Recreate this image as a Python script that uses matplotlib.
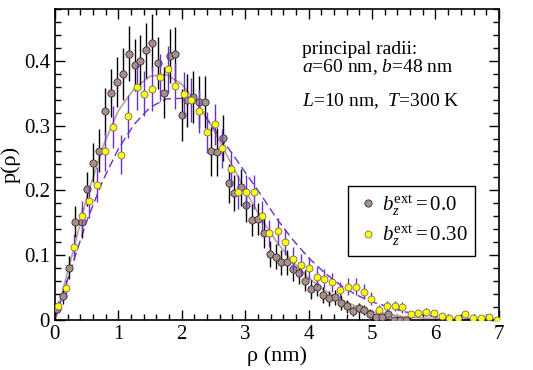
import numpy as np
import matplotlib
matplotlib.use("Agg")
import matplotlib.pyplot as plt
from matplotlib.lines import Line2D
from matplotlib.ticker import MultipleLocator

plt.rcParams["font.family"] = ["Liberation Serif", "DejaVu Serif"]
plt.rcParams["mathtext.fontset"] = "custom"
plt.rcParams["mathtext.rm"] = "Liberation Serif"
plt.rcParams["mathtext.it"] = "Liberation Serif:italic"

# ── DATA ──────────────────────────────────────────────────────────────────────
# b_z^ext = 0.0  (brown circles, black error bars)
rho_a = [0.04, 0.13, 0.23, 0.32, 0.42, 0.51, 0.60, 0.70, 0.79, 0.88,
         0.98, 1.07, 1.17, 1.26, 1.34, 1.44, 1.53, 1.62, 1.72, 1.81,
         1.90, 2.00, 2.09, 2.18, 2.27, 2.37, 2.46, 2.56, 2.65, 2.74,
         2.83, 2.93, 3.01, 3.11, 3.20, 3.29, 3.39, 3.48, 3.57, 3.66,
         3.75, 3.85, 3.94, 4.03, 4.13, 4.22, 4.32, 4.41, 4.51, 4.61,
         4.70, 4.79, 4.88, 4.97, 5.06, 5.15, 5.25, 5.34, 5.44, 5.53]
p_a = [0.0175, 0.037, 0.081, 0.152, 0.151, 0.2025, 0.243, 0.261, 0.322, 0.350,
       0.367, 0.380, 0.411, 0.394, 0.399, 0.416, 0.428, 0.397, 0.351, 0.407,
       0.410, 0.316, 0.339, 0.344, 0.336, 0.337, 0.260, 0.259, 0.281, 0.211,
       0.196, 0.2045, 0.178, 0.1545, 0.1556, 0.134, 0.1015, 0.098, 0.089, 0.089,
       0.079, 0.072, 0.061, 0.0475, 0.0515, 0.0386, 0.0335, 0.035, 0.027, 0.021,
       0.014, 0.018, 0.0155, 0.010, 0.005, 0.005, 0.009, 0.0, 0.0, 0.0]
err_a = [0.007, 0.012, 0.018, 0.024, 0.024, 0.026, 0.030, 0.033, 0.036, 0.037,
         0.039, 0.040, 0.043, 0.040, 0.041, 0.042, 0.044, 0.040, 0.039, 0.042,
         0.042, 0.040, 0.041, 0.040, 0.040, 0.040, 0.038, 0.037, 0.036, 0.030,
         0.028, 0.028, 0.027, 0.025, 0.025, 0.023, 0.020, 0.020, 0.019, 0.019,
         0.018, 0.017, 0.016, 0.015, 0.015, 0.013, 0.012, 0.012, 0.011, 0.010,
         0.008, 0.009, 0.008, 0.007, 0.005, 0.005, 0.006, 0.002, 0.002, 0.002]

# b_z^ext = 0.30  (yellow circles, purple error bars)
rho_b = [0.05, 0.17, 0.30, 0.42, 0.54, 0.67, 0.79, 0.91, 1.04, 1.16,
         1.29, 1.41, 1.53, 1.66, 1.78, 1.90, 2.03, 2.15, 2.27, 2.40,
         2.52, 2.64, 2.77, 2.89, 3.01, 3.14, 3.26, 3.38, 3.51, 3.63,
         3.75, 3.88, 4.00, 4.13, 4.25, 4.37, 4.50, 4.62, 4.74, 4.87,
         4.99, 5.11, 5.24, 5.36, 5.48, 5.61, 5.73, 5.85, 5.98, 6.10,
         6.22, 6.35, 6.47, 6.59, 6.72, 6.84, 6.97]
p_b = [0.0216, 0.049, 0.113, 0.160, 0.183, 0.209, 0.260, 0.298, 0.255, 0.314,
       0.359, 0.349, 0.357, 0.3745, 0.387, 0.361, 0.348, 0.339, 0.322, 0.2895,
       0.302, 0.265, 0.233, 0.197, 0.197, 0.197, 0.160, 0.134, 0.137, 0.121,
       0.094, 0.085, 0.080, 0.067, 0.064, 0.058, 0.046, 0.0515, 0.0515, 0.044,
       0.0325, 0.0155, 0.0216, 0.0216, 0.0196, 0.0088, 0.0103, 0.0128, 0.0103, 0.006,
       0.0036, 0.0036, 0.0088, 0.0036, 0.0036, 0.005, 0.0]
err_b = [0.008, 0.013, 0.020, 0.024, 0.025, 0.027, 0.030, 0.032, 0.030, 0.033,
         0.035, 0.035, 0.035, 0.036, 0.036, 0.035, 0.035, 0.034, 0.033, 0.032,
         0.032, 0.030, 0.028, 0.026, 0.026, 0.026, 0.023, 0.021, 0.021, 0.020,
         0.018, 0.017, 0.017, 0.015, 0.015, 0.014, 0.012, 0.013, 0.013, 0.012,
         0.010, 0.007, 0.008, 0.008, 0.008, 0.005, 0.005, 0.006, 0.005, 0.004,
         0.003, 0.003, 0.005, 0.003, 0.003, 0.004, 0.002]

# fitted curves
rho_fit = [0.0, 0.25, 0.5, 0.75, 1.0, 1.25, 1.5, 1.75, 2.0, 2.25,
           2.5, 2.75, 3.0, 3.25, 3.5, 3.75, 4.0, 4.25, 4.5, 4.75,
           5.0, 5.5, 6.0, 6.5, 7.0]
fit_a = [0.0, 0.092, 0.188, 0.266, 0.323, 0.357, 0.376, 0.379, 0.364, 0.334,
         0.294, 0.247, 0.200, 0.157, 0.120, 0.090, 0.065, 0.046, 0.032, 0.021,
         0.013, 0.005, 0.002, 0.0005, 0.0]
fit_b = [0.0, 0.078, 0.152, 0.214, 0.264, 0.302, 0.328, 0.341, 0.342, 0.332,
         0.296, 0.263, 0.228, 0.193, 0.156, 0.124, 0.096, 0.073, 0.054, 0.039,
         0.028, 0.013, 0.005, 0.002, 0.001]

BROWN = "#a48f8c"
BROWN_EDGE = "#3a2a2a"
YELLOW = "#ffff10"
YELLOW_EDGE = "#7a6a50"
PURPLE = "#6b30c8"

# ── PLOT ──────────────────────────────────────────────────────────────────────
fig = plt.figure(figsize=(5.33, 3.70), dpi=100)
ax = fig.add_axes([0.103, 0.135, 0.833, 0.841])

ax.plot(rho_fit, fit_a, color="#bca89c", lw=1.3, zorder=2)
ax.plot(rho_fit, fit_b, color=PURPLE, lw=1.0, ls=(0, (6, 3)), zorder=2)

ax.errorbar(rho_a, p_a, yerr=err_a, fmt="o", ms=5.2, mfc=BROWN, mec=BROWN_EDGE,
            mew=0.6, ecolor="black", elinewidth=1.0, capsize=0, zorder=3)
ax.errorbar(rho_b, p_b, yerr=err_b, fmt="o", ms=5.0, mfc=YELLOW, mec=YELLOW_EDGE,
            mew=0.6, ecolor=PURPLE, elinewidth=1.0, capsize=0, zorder=4)

ax.set_xlim(0, 7)
ax.set_ylim(0, 0.48)
ax.xaxis.set_major_locator(MultipleLocator(1))
ax.xaxis.set_minor_locator(MultipleLocator(0.2))
ax.yaxis.set_minor_locator(MultipleLocator(0.02))
ax.set_yticks([0, 0.1, 0.2, 0.3, 0.4])
ax.set_yticklabels(["0", "0.1", "0.2", "0.3", "0.4"])
ax.tick_params(which="both", direction="in", top=True, right=True, labelsize=15)
ax.tick_params(which="major", length=7, width=1)
ax.tick_params(which="minor", length=4, width=1)
for s in ax.spines.values():
    s.set_linewidth(1.2)

ax.set_xlabel("ρ (nm)", fontsize=16, labelpad=2)
ax.set_ylabel("p(ρ)", fontsize=16, labelpad=2)

ax.text(3.9, 0.430, "principal radii:\n$a$=60 nm, $b$=48 nm", fontsize=14,
        va="top", ha="left", linespacing=0.95)
ax.text(3.9, 0.323, "$L$=10 nm,  $T$=300 K", fontsize=14, va="bottom", ha="left")

handles = [
    Line2D([], [], ls="none", marker="o", ms=5.2, mfc=BROWN, mec=BROWN_EDGE, mew=0.6),
    Line2D([], [], ls="none", marker="o", ms=5.0, mfc=YELLOW, mec=YELLOW_EDGE, mew=0.6),
]
labels = [r"$b_z^{\rm ext} = 0.0$", r"$b_z^{\rm ext} = 0.30$"]
leg = ax.legend(handles, labels, loc="upper left", bbox_to_anchor=(0.66, 0.432),
                fontsize=15, frameon=True, fancybox=False, edgecolor="black",
                framealpha=1, handletextpad=0.1, borderpad=0.35, labelspacing=0.3,
                handlelength=1.2, borderaxespad=0, numpoints=1)
leg.get_frame().set_linewidth(1.0)

fig.savefig("out.png", dpi=100)
